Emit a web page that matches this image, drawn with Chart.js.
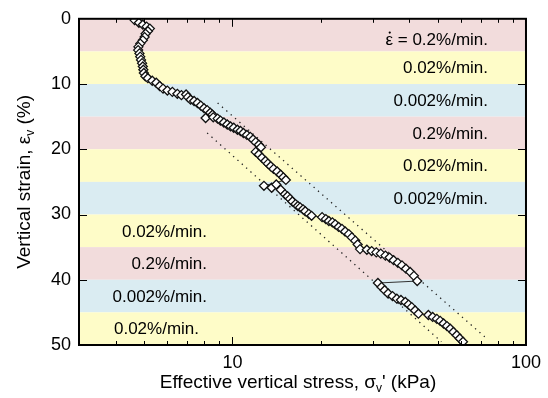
<!DOCTYPE html>
<html>
<head>
<meta charset="utf-8">
<script src="https://cdn.jsdelivr.net/npm/chart.js@4.4.0/dist/chart.umd.min.js"></script>
<style>
  html, body { margin: 0; padding: 0; background: #fff; }
  #wrap { width: 548px; height: 398px; }
</style>
</head>
<body>
<div id="wrap"><canvas id="stage"></canvas></div>
<script>
// measured curve: effective vertical stress (kPa) vs vertical strain (%)
const stressKPa = [4.64,4.80,4.95,5.10,5.23,5.15,5.06,5.02,4.95,4.85,4.78,4.77,4.82,4.85,4.88,4.92,4.95,4.97,4.99,5.05,
  5.15,5.33,5.50,5.65,5.80,6.00,6.24,6.49,6.70,6.95,7.05,7.20,7.40,7.60,7.80,8.00,8.20,8.40,8.55,8.10,
  8.60,8.90,9.10,9.35,9.60,9.85,10.1,10.4,10.65,10.9,11.2,11.5,11.75,12.0,12.3,12.5,12.0,12.3,12.6,12.95,
  13.2,13.5,13.8,14.2,14.6,14.9,15.2,12.8,13.6,14.1,14.6,15.1,15.4,15.7,16.0,16.4,16.7,17.0,17.4,17.7,
  18.2,18.6,20.2,20.8,21.3,21.9,22.4,23.0,23.6,24.2,24.9,25.5,26.2,26.7,27.2,28.7,29.8,30.9,32.0,33.2,
  34.3,35.4,36.6,37.8,39.0,40.3,41.5,42.6,31.3,32.2,33.0,33.9,35.1,36.3,37.5,38.8,39.8,40.8,41.9,43.0,
  46.5,48.1,49.7,51.0,52.4,53.8,55.2,56.6,58.1,59.5,61.0];
const strainPct = [0.2,0.6,0.9,1.2,1.5,1.9,2.3,2.8,3.3,3.8,4.3,4.8,5.3,5.8,6.3,6.8,7.3,7.8,8.3,8.8,
  9.1,9.5,9.8,10.3,10.7,11.0,11.2,11.5,11.7,11.6,12.0,12.4,12.6,12.9,13.3,13.7,14.0,14.4,14.7,15.2,
  15.1,15.3,15.6,15.9,16.2,16.5,16.7,17.0,17.2,17.5,17.8,18.1,18.5,18.9,19.3,19.7,20.4,20.8,21.3,21.8,
  22.2,22.6,23.0,23.4,23.9,24.3,24.7,25.6,25.9,25.4,26.2,26.9,27.2,27.6,28.0,28.4,28.7,28.9,29.2,29.5,
  29.9,30.2,30.4,30.7,31.0,31.2,31.5,31.9,32.2,32.6,33.0,33.5,34.0,34.6,35.3,35.4,35.6,35.8,36.0,36.3,
  36.6,37.0,37.4,37.8,38.3,38.8,39.4,40.2,40.5,41.1,41.6,42.1,42.5,42.9,43.1,43.4,43.8,44.2,44.7,45.2,
  45.4,45.7,46.0,46.3,46.7,47.1,47.5,48.0,48.5,49.0,49.5];

// dotted reference lines
const guideUpperX = [8.9, 73];
const guideUpperY = [12.9, 48.9];
const guideLowerX = [8.2, 51.5];
const guideLowerY = [17.5, 49.5];

// strain-rate stages
const stageEdges = [0, 5, 10, 15, 20, 25, 30, 35, 40, 45, 50];
const stageRates = [0.2, 0.02, 0.002, 0.2, 0.02, 0.002, 0.02, 0.2, 0.002, 0.02];
const stageLabels = ['\u03b5\u0307 = 0.2%/min.', '0.02%/min.', '0.002%/min.', '0.2%/min.', '0.02%/min.',
  '0.002%/min.', '0.02%/min.', '0.2%/min.', '0.002%/min.', '0.02%/min.'];

const xTickLabels = [10, 100];
const yTickLabels = [0, 10, 20, 30, 40, 50];

const rateColor = { 0.2: '#f2dcdc', 0.02: '#fefcc8', 0.002: '#daecf2' };
const FONT = '"Liberation Sans", Arial, sans-serif';

const bandsPlugin = {
  id: 'bands',
  beforeDatasetsDraw(chart) {
    const { ctx, chartArea: a, scales: { y } } = chart;
    ctx.save();
    for (let i = 0; i < stageRates.length; i++) {
      const y0 = y.getPixelForValue(stageEdges[i]);
      const y1 = y.getPixelForValue(stageEdges[i + 1]);
      ctx.fillStyle = rateColor[stageRates[i]];
      ctx.fillRect(a.left, y0, a.right - a.left, y1 - y0);
    }
    // stage labels
    ctx.fillStyle = '#000';
    ctx.font = '17px ' + FONT;
    ctx.textBaseline = 'middle';
    ctx.textAlign = 'right';
    for (let i = 0; i < stageLabels.length; i++) {
      const yc = y.getPixelForValue((stageEdges[i] + stageEdges[i + 1]) / 2) + (i == 0 ? 5 : 1);
      let xr;
      if (i < 6) xr = a.left + 409;
      else if (i < 9) xr = a.left + 128;
      else xr = a.left + 120;
      let txt = stageLabels[i];
      if (txt.startsWith('\u03b5\u0307')) {
        // epsilon with dot: draw the dot by hand, the combining mark sits badly
        const rest = txt.slice(2);
        ctx.fillText(rest, xr, yc);
        const wr = ctx.measureText(rest).width;
        const we = ctx.measureText('\u03b5').width;
        const xe = xr - wr - we;
        ctx.textAlign = 'left';
        ctx.fillText('\u03b5', xe, yc);
        ctx.textAlign = 'right';
        ctx.beginPath();
        ctx.arc(xe + we / 2 + 0.5, yc - 7.5, 1.1, 0, Math.PI * 2);
        ctx.fill();
      } else {
        ctx.fillText(txt, xr, yc);
      }
    }
    ctx.restore();
  }
};

function subText(ctx, parts, x, y) {
  // parts: [text, isSub]
  let w = 0;
  for (const p of parts) {
    ctx.font = (p[1] ? '12px ' : '19px ') + FONT;
    w += ctx.measureText(p[0]).width;
  }
  let cx = x - w / 2;
  for (const p of parts) {
    ctx.font = (p[1] ? '12px ' : '19px ') + FONT;
    ctx.fillText(p[0], cx, p[1] ? y + 6 : y);
    cx += ctx.measureText(p[0]).width;
  }
}

const framePlugin = {
  id: 'frame',
  afterDraw(chart) {
    const { ctx, chartArea: a, scales: { x, y } } = chart;
    ctx.save();
    ctx.strokeStyle = '#000';
    ctx.lineWidth = 1;
    ctx.beginPath();
    for (let d = 1; d <= 100; d *= 10) {
      for (let m = 1; m < 10; m++) {
        const v = d * m;
        if (v < 3 || v >= 100) continue;
        const px = Math.round(x.getPixelForValue(v)) + 0.5;
        const len = m == 1 ? 8 : 4;
        ctx.moveTo(px, a.bottom); ctx.lineTo(px, a.bottom - len);
        ctx.moveTo(px, a.top); ctx.lineTo(px, a.top + len);
      }
    }
    for (let v = 10; v < 50; v += 10) {
      const py = Math.round(y.getPixelForValue(v)) + 0.5;
      ctx.moveTo(a.left, py); ctx.lineTo(a.left + 8, py);
      ctx.moveTo(a.right, py); ctx.lineTo(a.right - 8, py);
    }
    ctx.stroke();
    ctx.lineWidth = 2;
    ctx.strokeRect(a.left, a.top, a.right - a.left, a.bottom - a.top);

    // axis titles
    ctx.fillStyle = '#000';
    ctx.textBaseline = 'middle';
    ctx.textAlign = 'left';
    subText(ctx, [['Effective vertical stress, \u03c3', false], ['v', true], ["' (kPa)", false]], 298, 383);
    ctx.translate(25, (a.top + a.bottom) / 2);
    ctx.rotate(-Math.PI / 2);
    subText(ctx, [['Vertical strain, \u03b5', false], ['v', true], [' (%)', false]], 0, 0);
    ctx.restore();
  }
};

const chart = new Chart(document.getElementById('stage'), {
  type: 'scatter',
  data: {
    datasets: [
      {
        label: 'measured',
        data: stressKPa.map((s, i) => ({ x: s, y: strainPct[i] })),
        showLine: true,
        borderColor: '#333',
        borderWidth: 1,
        pointStyle: 'rectRot',
        pointRadius: 4.5,
        pointBackgroundColor: '#fff',
        pointBorderColor: '#111',
        pointBorderWidth: 1.3,
        order: 0
      },
      {
        label: 'upper guide',
        data: guideUpperX.map((s, i) => ({ x: s, y: guideUpperY[i] })),
        showLine: true,
        borderColor: '#222',
        borderWidth: 1.3,
        borderDash: [1.3, 4.5],
        pointRadius: 0,
        order: 1
      },
      {
        label: 'lower guide',
        data: guideLowerX.map((s, i) => ({ x: s, y: guideLowerY[i] })),
        showLine: true,
        borderColor: '#222',
        borderWidth: 1.3,
        borderDash: [1.3, 4.5],
        pointRadius: 0,
        order: 1
      }
    ]
  },
  options: {
    responsive: true,
    maintainAspectRatio: false,
    animation: false,
    layout: { padding: { top: 17, right: 22, left: 0, bottom: 0 } },
    plugins: { legend: { display: false }, tooltip: { enabled: false } },
    scales: {
      x: {
        type: 'logarithmic',
        min: 3,
        max: 100,
        grid: { display: false, drawTicks: false },
        border: { display: false },
        ticks: {
          autoSkip: false,
          maxRotation: 0,
          padding: 7,
          color: '#000',
          font: { size: 18, family: FONT },
          callback: v => xTickLabels.includes(v) ? String(v) : ''
        },
        afterFit: s => { s.height = 53; }
      },
      y: {
        type: 'linear',
        reverse: true,
        min: 0,
        max: 50,
        grid: { display: false, drawTicks: false },
        border: { display: false },
        ticks: {
          stepSize: 10,
          padding: 8,
          color: '#000',
          font: { size: 18, family: FONT },
          callback: v => yTickLabels.includes(v) ? String(v) : ''
        },
        afterFit: s => { s.width = 79; }
      }
    }
  },
  plugins: [bandsPlugin, framePlugin]
});
</script>
</body>
</html>
